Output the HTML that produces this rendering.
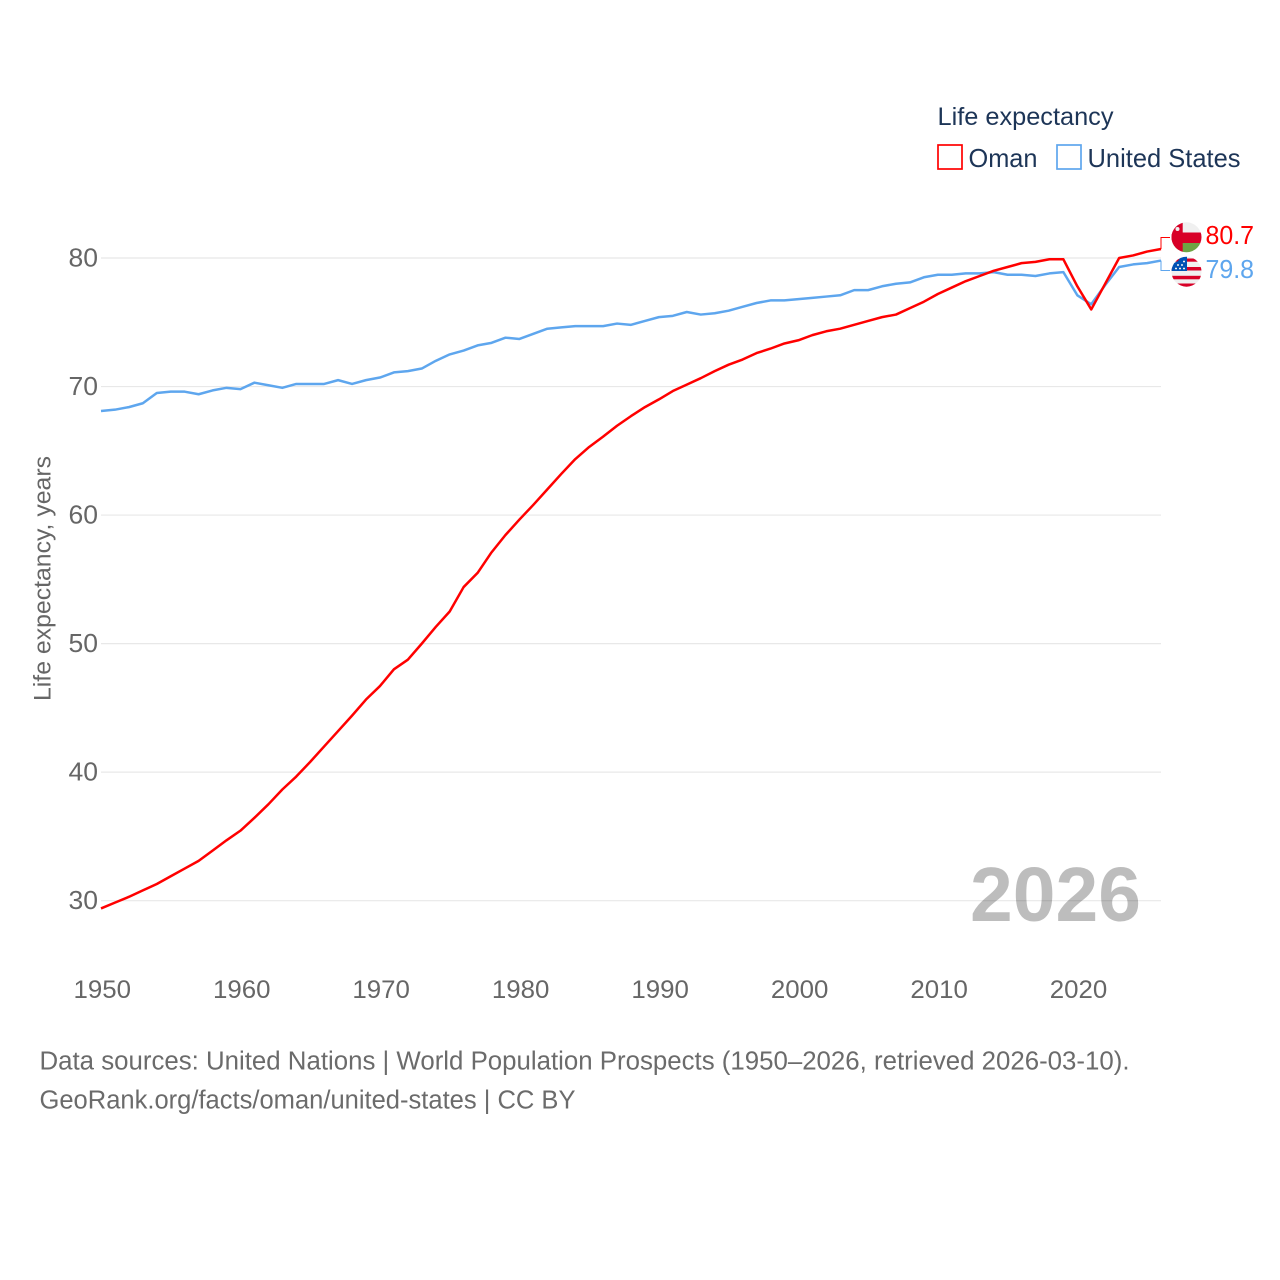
<!DOCTYPE html>
<html lang="en">
<head>
<meta charset="utf-8">
<title>Life expectancy: Oman and United States</title>
<style>
html,body{margin:0;padding:0;background:#fff;}
svg{display:block;font-family:"Liberation Sans",Arial,sans-serif;}
</style>
</head>
<body>
<svg id="chart" width="1280" height="1280" viewBox="0 0 1280 1280" xmlns="http://www.w3.org/2000/svg">
  <defs>
    <clipPath id="clip-oman"><circle cx="1186.5" cy="237.3" r="15"/></clipPath>
    <clipPath id="clip-us"><circle cx="1186.5" cy="271.7" r="15"/></clipPath>
  </defs>
  <rect width="1280" height="1280" fill="#fff"/>
  <g id="grid"></g>
  <g id="y-ticks"></g>
  <g id="x-ticks"></g>
  <text transform="translate(50.5,701) rotate(-90)" font-size="24.5" fill="#666" textLength="245" lengthAdjust="spacingAndGlyphs">Life expectancy, years</text>
  <text x="970" y="921" font-size="77" font-weight="700" fill="#000" fill-opacity="0.26" textLength="171" lengthAdjust="spacingAndGlyphs">2026</text>
  <g id="series"></g>

  <g>
    <text x="937.5" y="125" font-size="25" fill="#1d3557" textLength="176" lengthAdjust="spacingAndGlyphs">Life expectancy</text>
    <rect x="938" y="145" width="24" height="24" fill="#fff" stroke="#ff0000" stroke-width="1.7"/>
    <text x="968.5" y="167" font-size="26" fill="#1d3557" textLength="69" lengthAdjust="spacingAndGlyphs">Oman</text>
    <rect x="1057" y="145" width="24" height="24" fill="#fff" stroke="#5ea6ee" stroke-width="1.7"/>
    <text x="1087.5" y="167" font-size="26" fill="#1d3557" textLength="153" lengthAdjust="spacingAndGlyphs">United States</text>
  </g>

  <g clip-path="url(#clip-oman)">
    <rect x="1170" y="221" width="34" height="34" fill="#f0f0f0"/>
    <rect x="1170" y="232.5" width="34" height="10.5" fill="#d80027"/>
    <rect x="1170" y="243" width="34" height="12" fill="#6da544"/>
    <rect x="1170" y="221" width="12.7" height="34" fill="#d80027"/>
    <circle cx="1177.5" cy="229" r="2" fill="#f0f0f0"/>
  </g>
  <g clip-path="url(#clip-us)">
    <rect x="1170" y="255" width="34" height="34" fill="#f0f0f0"/>
    <rect x="1170" y="258.5" width="34" height="3.2" fill="#d80027"/>
    <rect x="1170" y="267" width="34" height="3.5" fill="#d80027"/>
    <rect x="1170" y="275.8" width="34" height="3.5" fill="#d80027"/>
    <rect x="1170" y="283.5" width="34" height="4" fill="#d80027"/>
    <path d="M1170 271V265L1178 261L1182 255H1187V271Z" fill="#0052b4"/>
    <path d="M1175 268.5h2M1179 268.5h2M1183 268.5h2M1177 265h2M1181 265h2M1183 261.5h2" stroke="#f0f0f0" stroke-width="1.6" fill="none"/>
  </g>

  <g>
    <text x="39.5" y="1069.5" font-size="25.5" fill="#6b6b6b" textLength="1090" lengthAdjust="spacingAndGlyphs">Data sources: United Nations | World Population Prospects (1950–2026, retrieved 2026-03-10).</text>
    <text x="39.5" y="1108.5" font-size="25.5" fill="#6b6b6b" textLength="536" lengthAdjust="spacingAndGlyphs">GeoRank.org/facts/oman/united-states | CC BY</text>
  </g>
</svg>
<script>
const years = [1950,1951,1952,1953,1954,1955,1956,1957,1958,1959,1960,1961,1962,1963,1964,1965,1966,1967,1968,1969,1970,1971,1972,1973,1974,1975,1976,1977,1978,1979,1980,1981,1982,1983,1984,1985,1986,1987,1988,1989,1990,1991,1992,1993,1994,1995,1996,1997,1998,1999,2000,2001,2002,2003,2004,2005,2006,2007,2008,2009,2010,2011,2012,2013,2014,2015,2016,2017,2018,2019,2020,2021,2022,2023,2024,2025,2026];
const omanValues = [29.4,29.85,30.3,30.8,31.3,31.9,32.5,33.1,33.9,34.7,35.45,36.45,37.5,38.65,39.66,40.8,42.0,43.2,44.4,45.65,46.7,48.0,48.75,50.0,51.3,52.5,54.4,55.5,57.1,58.45,59.65,60.8,62.0,63.2,64.35,65.3,66.1,66.95,67.7,68.4,69.0,69.65,70.15,70.65,71.2,71.7,72.1,72.6,72.95,73.35,73.6,74.0,74.3,74.5,74.8,75.1,75.4,75.6,76.1,76.6,77.2,77.7,78.2,78.6,79.0,79.3,79.6,79.7,79.9,79.9,77.8,76.0,78.0,80.0,80.2,80.5,80.7];
const usValues = [68.1,68.2,68.4,68.7,69.5,69.6,69.6,69.4,69.7,69.9,69.8,70.3,70.1,69.9,70.2,70.2,70.2,70.5,70.2,70.5,70.7,71.1,71.2,71.4,72.0,72.5,72.8,73.2,73.4,73.8,73.7,74.1,74.5,74.6,74.7,74.7,74.7,74.9,74.8,75.1,75.4,75.5,75.8,75.6,75.7,75.9,76.2,76.5,76.7,76.7,76.8,76.9,77.0,77.1,77.5,77.5,77.8,78.0,78.1,78.5,78.7,78.7,78.8,78.8,78.9,78.7,78.7,78.6,78.8,78.9,77.1,76.4,77.9,79.3,79.5,79.6,79.8];
const yTickLabels = [30,40,50,60,70,80];
const xTickLabels = [1950,1960,1970,1980,1990,2000,2010,2020];

const SVG_NS = 'http://www.w3.org/2000/svg';
const xScale = v => 101 + (v - 1950) * (1161 - 101) / 76;
const yScale = v => 900.7 - (v - 30) * (900.7 - 258) / 50;
const svg = document.getElementById('chart');

function make(tag, attrs, parent) {
  const el = document.createElementNS(SVG_NS, tag);
  Object.keys(attrs).forEach(k => el.setAttribute(k, attrs[k]));
  parent.appendChild(el);
  return el;
}

const grid = document.getElementById('grid');
const yTicks = document.getElementById('y-ticks');
yTickLabels.forEach(t => {
  const line = make('line', {x1: xScale(1950), x2: xScale(2026), y1: yScale(t), y2: yScale(t), stroke: '#e8e8e8', 'stroke-width': 1.2}, grid);
  
  
  const label = make('text', {x: 68.5, y: yScale(t) + 8.5, 'font-size': 26, fill: '#666', textLength: 29.5, lengthAdjust: 'spacingAndGlyphs'}, yTicks);
  
  
  label.textContent = t;
});

const xTicks = document.getElementById('x-ticks');
xTickLabels.forEach(t => {
  const label = make('text', {x: xScale(t) - 27.5, y: 997.8, 'font-size': 25, fill: '#666', textLength: 57.5, lengthAdjust: 'spacingAndGlyphs'}, xTicks);
  
  
  label.textContent = t;
});

const seriesGroup = document.getElementById('series');
const pathFor = values => values.map((v, i) => (i ? 'L' : 'M') + xScale(years[i]).toFixed(2) + ' ' + yScale(v).toFixed(2)).join('');
const lastYear = years[years.length - 1];
const omanLast = omanValues[omanValues.length - 1];
const usLast = usValues[usValues.length - 1];

const usLine = make('path', {d: pathFor(usValues), fill: 'none', stroke: '#5ea6ee', 'stroke-width': 2.5, 'stroke-linejoin': 'round'}, seriesGroup);



const omanLine = make('path', {d: pathFor(omanValues), fill: 'none', stroke: '#ff0000', 'stroke-width': 2.5, 'stroke-linejoin': 'round'}, seriesGroup);



const endX = xScale(lastYear);
const omanConnector = make('path', {d: 'M' + endX + ' ' + yScale(omanLast) + 'V237.5H1170', fill: 'none', stroke: '#ff0000', 'stroke-width': 1}, seriesGroup);



const usConnector = make('path', {d: 'M' + endX + ' ' + yScale(usLast) + 'V270.5H1170', fill: 'none', stroke: '#5ea6ee', 'stroke-width': 1}, seriesGroup);



const omanValueLabel = make('text', {x: 1205.5, y: 244, 'font-size': 25.5, fill: '#ff0000', textLength: 48.5, lengthAdjust: 'spacingAndGlyphs'}, svg);


omanValueLabel.textContent = omanLast.toFixed(1);

const usValueLabel = make('text', {x: 1205.5, y: 278, 'font-size': 25.5, fill: '#5ea6ee', textLength: 48.5, lengthAdjust: 'spacingAndGlyphs'}, svg);


usValueLabel.textContent = usLast.toFixed(1);
</script>
</body>
</html>
